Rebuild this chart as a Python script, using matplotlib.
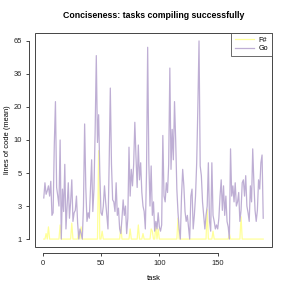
import numpy as np
import matplotlib
matplotlib.use("Agg")
import matplotlib.pyplot as plt
from matplotlib.patches import Rectangle

# mean lines of code per task (tasks 1..189)
go_loc = [
    3.4, 4.3, 3.6, 3.8, 4.1, 3.5, 4.4, 2.2, 2.4, 9.0,
    22, 4.0, 3.5, 3.0, 10, 1.0, 3.9, 2.5, 6.0, 1.4,
    3.0, 4.3, 2.0, 3.2, 4.5, 1.8, 2.4, 2.6, 3.5, 1.7,
    1.0, 1.4, 1.2, 1.0, 3.0, 14, 4.0, 1.8, 2.4, 2.0,
    3.9, 6.6, 2.5, 3.9, 12, 50, 9.5, 17, 5.0, 2.4,
    2.2, 3.0, 4.1, 3.2, 2.2, 1.4, 6.0, 28, 6.0, 3.3,
    3.2, 2.5, 4.3, 2.2, 2.8, 1.4, 1.2, 2.0, 3.3, 2.2,
    3.0, 1.2, 2.0, 8.6, 3.5, 5.4, 4.1, 6.0, 14.5, 7.0,
    4.0, 9.0, 4.5, 6.2, 3.7, 3.0, 2.5, 1.4, 5.0, 58,
    6.2, 3.0, 5.8, 2.2, 3.2, 1.3, 1.8, 1.4, 2.4, 1.5,
    1.3, 1.6, 11, 3.5, 3.2, 4.3, 3.7, 6.0, 40, 5.4,
    12.5, 6.6, 22, 10, 3.9, 2.4, 1.4, 1.0, 3.5, 5.4,
    4.1, 2.5, 1.8, 2.2, 1.5, 1.0, 3.5, 3.9, 1.4, 2.2,
    3.5, 6.2, 20, 65, 5.8, 4.8, 3.2, 2.2, 1.4, 2.2,
    3.0, 6.2, 1.8, 1.3, 6.2, 2.2, 1.8, 1.4, 1.6, 1.4,
    2.0, 3.5, 4.5, 2.6, 4.1, 2.2, 3.5, 1.8, 1.5, 1.0,
    8.3, 3.5, 4.1, 3.2, 4.3, 3.0, 3.2, 3.7, 1.8, 2.6,
    4.3, 4.5, 3.5, 4.8, 3.0, 2.4, 1.8, 4.1, 3.2, 8.3,
    4.3, 2.6, 1.8, 2.6, 4.5, 3.9, 6.2, 7.3, 2.0,
]

fsharp_loc = [1.0] * 189
fsharp_spikes = {3: 1.2, 5: 1.5, 15: 1.6, 25: 1.7, 31: 1.3, 33: 1.5, 48: 8.0,
                 51: 1.3, 67: 1.5, 75: 1.4, 82: 1.6, 86: 1.2, 93: 1.4, 94: 1.3,
                 97: 1.6, 99: 1.4, 116: 2.0, 141: 2.7, 146: 1.3, 160: 1.2,
                 170: 2.1}
for k, v in fsharp_spikes.items():
    fsharp_loc[k - 1] = v

tasks = np.arange(1, len(go_loc) + 1)

y_ticks = [1, 3, 5, 10, 20, 36, 65]
x_ticks = [0, 50, 100, 150]

# the y axis puts the tick values at even steps
lt = np.log(y_ticks)
pos = np.arange(len(y_ticks), dtype=float)


def fwd(v):
    lv = np.log(np.clip(np.asarray(v, dtype=float), 1e-9, None))
    out = np.interp(lv, lt, pos)
    lo = lv < lt[0]
    out = np.where(lo, (lv - lt[0]) / (lt[1] - lt[0]), out)
    hi = lv > lt[-1]
    out = np.where(hi, pos[-1] + (lv - lt[-1]) / (lt[-1] - lt[-2]), out)
    return out


def inv(p):
    p = np.asarray(p, dtype=float)
    out = np.exp(np.interp(p, pos, lt))
    out = np.where(p < 0, np.exp(lt[0] + p * (lt[1] - lt[0])), out)
    out = np.where(p > pos[-1], np.exp(lt[-1] + (p - pos[-1]) * (lt[-1] - lt[-2])), out)
    return out


plt.rcParams['font.family'] = ['Liberation Sans', 'DejaVu Sans']
axc = '#444444'

fig = plt.figure(figsize=(2.91, 2.91), dpi=100)
ax = fig.add_axes([35 / 291, 44 / 291, 237 / 291, 214 / 291])
ax.set_yscale('function', functions=(fwd, inv))

ax.plot(tasks, fsharp_loc, color='#FFFF99', lw=0.9, label='F#')
ax.plot(tasks, go_loc, color='#BEAED4', lw=0.9, label='Go')

n = len(go_loc)
pad = 0.04 * (n - 1)
ax.set_xlim(1 - pad, n + pad)
ax.set_ylim(float(inv(-0.24)), float(inv(pos[-1] + 0.24)))

ax.set_yticks(y_ticks)
ax.set_yticklabels([str(t) for t in y_ticks], rotation=90, va='center')
ax.set_xticks(x_ticks)
ax.yaxis.set_minor_locator(matplotlib.ticker.NullLocator())

for s in ['top', 'right']:
    ax.spines[s].set_visible(False)
ax.spines['left'].set_position(('outward', 4.3))
ax.spines['bottom'].set_position(('outward', 4.3))
ax.spines['left'].set_bounds(y_ticks[0], y_ticks[-1])
ax.spines['bottom'].set_bounds(x_ticks[0], x_ticks[-1])
for s in ['left', 'bottom']:
    ax.spines[s].set_color(axc)
    ax.spines[s].set_linewidth(0.7)
ax.tick_params(length=2.5, width=0.7, color=axc, labelsize=5.4,
               labelcolor='#222222', pad=2.5)

ax.add_patch(Rectangle((0, 0), 1, 1, transform=ax.transAxes, fill=False,
                       edgecolor=axc, lw=0.7, clip_on=False, zorder=5))

ax.set_xlabel('task', fontsize=5.4, labelpad=6)
ax.set_ylabel('lines of code (mean)', fontsize=5.4, labelpad=2)
ax.set_title('Conciseness: tasks compiling successfully', fontsize=6.3,
             fontweight='bold', pad=11)

leg = ax.legend(loc='upper right', borderaxespad=0, fancybox=False,
                fontsize=5.2, handlelength=2.6, borderpad=0.5,
                labelspacing=0.2, handletextpad=0.7)
leg.get_frame().set_edgecolor(axc)
leg.get_frame().set_linewidth(0.7)

plt.savefig('out.png', dpi=100)
